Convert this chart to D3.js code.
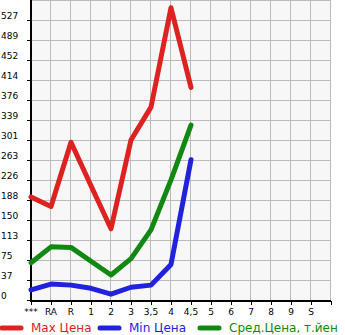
<!DOCTYPE html>
<html>
<head>
<meta charset="utf-8">
<script src="https://cdn.jsdelivr.net/npm/d3@7/dist/d3.min.js"></script>
<style>
  body { margin: 0; background: #fff; }
  svg { display: block; font-family: "DejaVu Sans", sans-serif; }
</style>
</head>
<body>
<div id="chart"></div>
<script>
var categories = ["***", "RA", "R", "1", "2", "3", "3,5", "4", "4,5", "5", "6", "7", "8", "9", "S"];
var yTickLabels = ["0", "37", "75", "113", "150", "188", "226", "263", "301", "339", "376", "414", "452", "489", "527"];
var yStep = 37.64;

var maxPrice = [194, 176, 297, 215, 134, 301, 363, 550, 400];
var minPrice = [19, 30, 28, 22, 11, 24, 28, 67, 264];
var avgPrice = [70, 100, 99, 73, 47, 78, 132, 226, 329];

var seriesNames = ["Max Цена", "Min Цена", "Сред.Цена, т.йен"];
var seriesColors = ["#dd2222", "#2222dd", "#118811"];

//////////////////////////////////////////////////////////////////////////////

var width = 345, height = 335;
var plotLeft = 31, plotRight = 331, plotTop = 0, plotBottom = 300;

var svg = d3.select("#chart").append("svg")
    .attr("width", width)
    .attr("height", height);

var x = d3.scaleLinear().domain([0, categories.length]).range([plotLeft, plotRight]);
var y = d3.scaleLinear().domain([0, yStep * yTickLabels.length]).range([plotBottom, plotTop]);

svg.append("rect")
    .attr("x", plotLeft).attr("y", plotTop)
    .attr("width", plotRight - plotLeft).attr("height", plotBottom - plotTop)
    .style("fill", "#f7f7f7");

// grid
var yVals = d3.range(yTickLabels.length + 1).map(function(i){ return i * yStep; });
var xVals = d3.range(categories.length + 1);

svg.append("g").selectAll("line")
    .data(yVals.slice(1))
    .enter().append("line")
    .attr("x1", plotLeft).attr("x2", plotRight)
    .attr("y1", function(d){ return Math.round(y(d)) + 0.5; })
    .attr("y2", function(d){ return Math.round(y(d)) + 0.5; })
    .style("stroke", "#bbb").style("stroke-width", 1);

svg.append("g").selectAll("line")
    .data(xVals.slice(1))
    .enter().append("line")
    .attr("x1", function(d){ return Math.round(x(d)) - 0.5; })
    .attr("x2", function(d){ return Math.round(x(d)) - 0.5; })
    .attr("y1", plotTop).attr("y2", plotBottom)
    .style("stroke", "#bbb").style("stroke-width", 1);

// axes
var yAxis = d3.axisLeft(y)
    .tickValues(yVals.slice(0, -1))
    .tickSize(4)
    .tickFormat("");

svg.append("g")
    .attr("transform", "translate(" + plotLeft + ",0)")
    .call(yAxis)
    .call(function(g){
      g.select(".domain").remove();
      g.selectAll(".tick line").style("stroke", "#000");
    });

var xAxis = d3.axisBottom(x)
    .tickValues(xVals)
    .tickSize(4)
    .tickFormat("");

svg.append("g")
    .attr("transform", "translate(0," + (plotBottom + 1) + ")")
    .call(xAxis)
    .call(function(g){
      g.select(".domain").remove();
      g.selectAll(".tick line").style("stroke", "#000");
    });

svg.append("line")
    .attr("x1", plotLeft).attr("x2", plotLeft)
    .attr("y1", plotTop).attr("y2", plotBottom + 2)
    .style("stroke", "#000").style("stroke-width", 2);

svg.append("line")
    .attr("x1", plotLeft - 1).attr("x2", plotRight)
    .attr("y1", plotBottom + 1).attr("y2", plotBottom + 1)
    .style("stroke", "#000").style("stroke-width", 2);

// tick labels
svg.append("g").selectAll("text")
    .data(yTickLabels)
    .enter().append("text")
    .attr("x", 1)
    .attr("y", function(d, i){ return y(i * yStep) - 1; })
    .style("font-size", "9px")
    .style("fill", "#000")
    .text(function(d){ return d; });

svg.append("g").selectAll("text")
    .data(categories)
    .enter().append("text")
    .attr("x", function(d, i){ return x(i); })
    .attr("y", 315)
    .attr("text-anchor", "middle")
    .style("font-size", "9px")
    .style("fill", "#000")
    .text(function(d){ return d; });

// lines
var line = d3.line()
    .x(function(d, i){ return x(i); })
    .y(function(d){ return y(d); });

[maxPrice, minPrice, avgPrice].forEach(function(data, k){
  svg.append("path")
      .datum(data)
      .attr("d", line)
      .style("fill", "none")
      .style("stroke", seriesColors[k])
      .style("stroke-width", 5)
      .style("stroke-linejoin", "round")
      .style("stroke-linecap", "round");
});

// legend
var legendX = [0, 98, 198];
var legend = svg.append("g").attr("transform", "translate(0,328)");

seriesNames.forEach(function(name, k){
  legend.append("line")
      .attr("x1", legendX[k] + 2).attr("x2", legendX[k] + 21)
      .attr("y1", 0).attr("y2", 0)
      .style("stroke", seriesColors[k])
      .style("stroke-width", 5)
      .style("stroke-linecap", "round");
  legend.append("text")
      .attr("x", legendX[k] + 31)
      .attr("y", 4)
      .style("font-size", "12px")
      .style("fill", seriesColors[k])
      .text(name);
});
</script>
</body>
</html>
